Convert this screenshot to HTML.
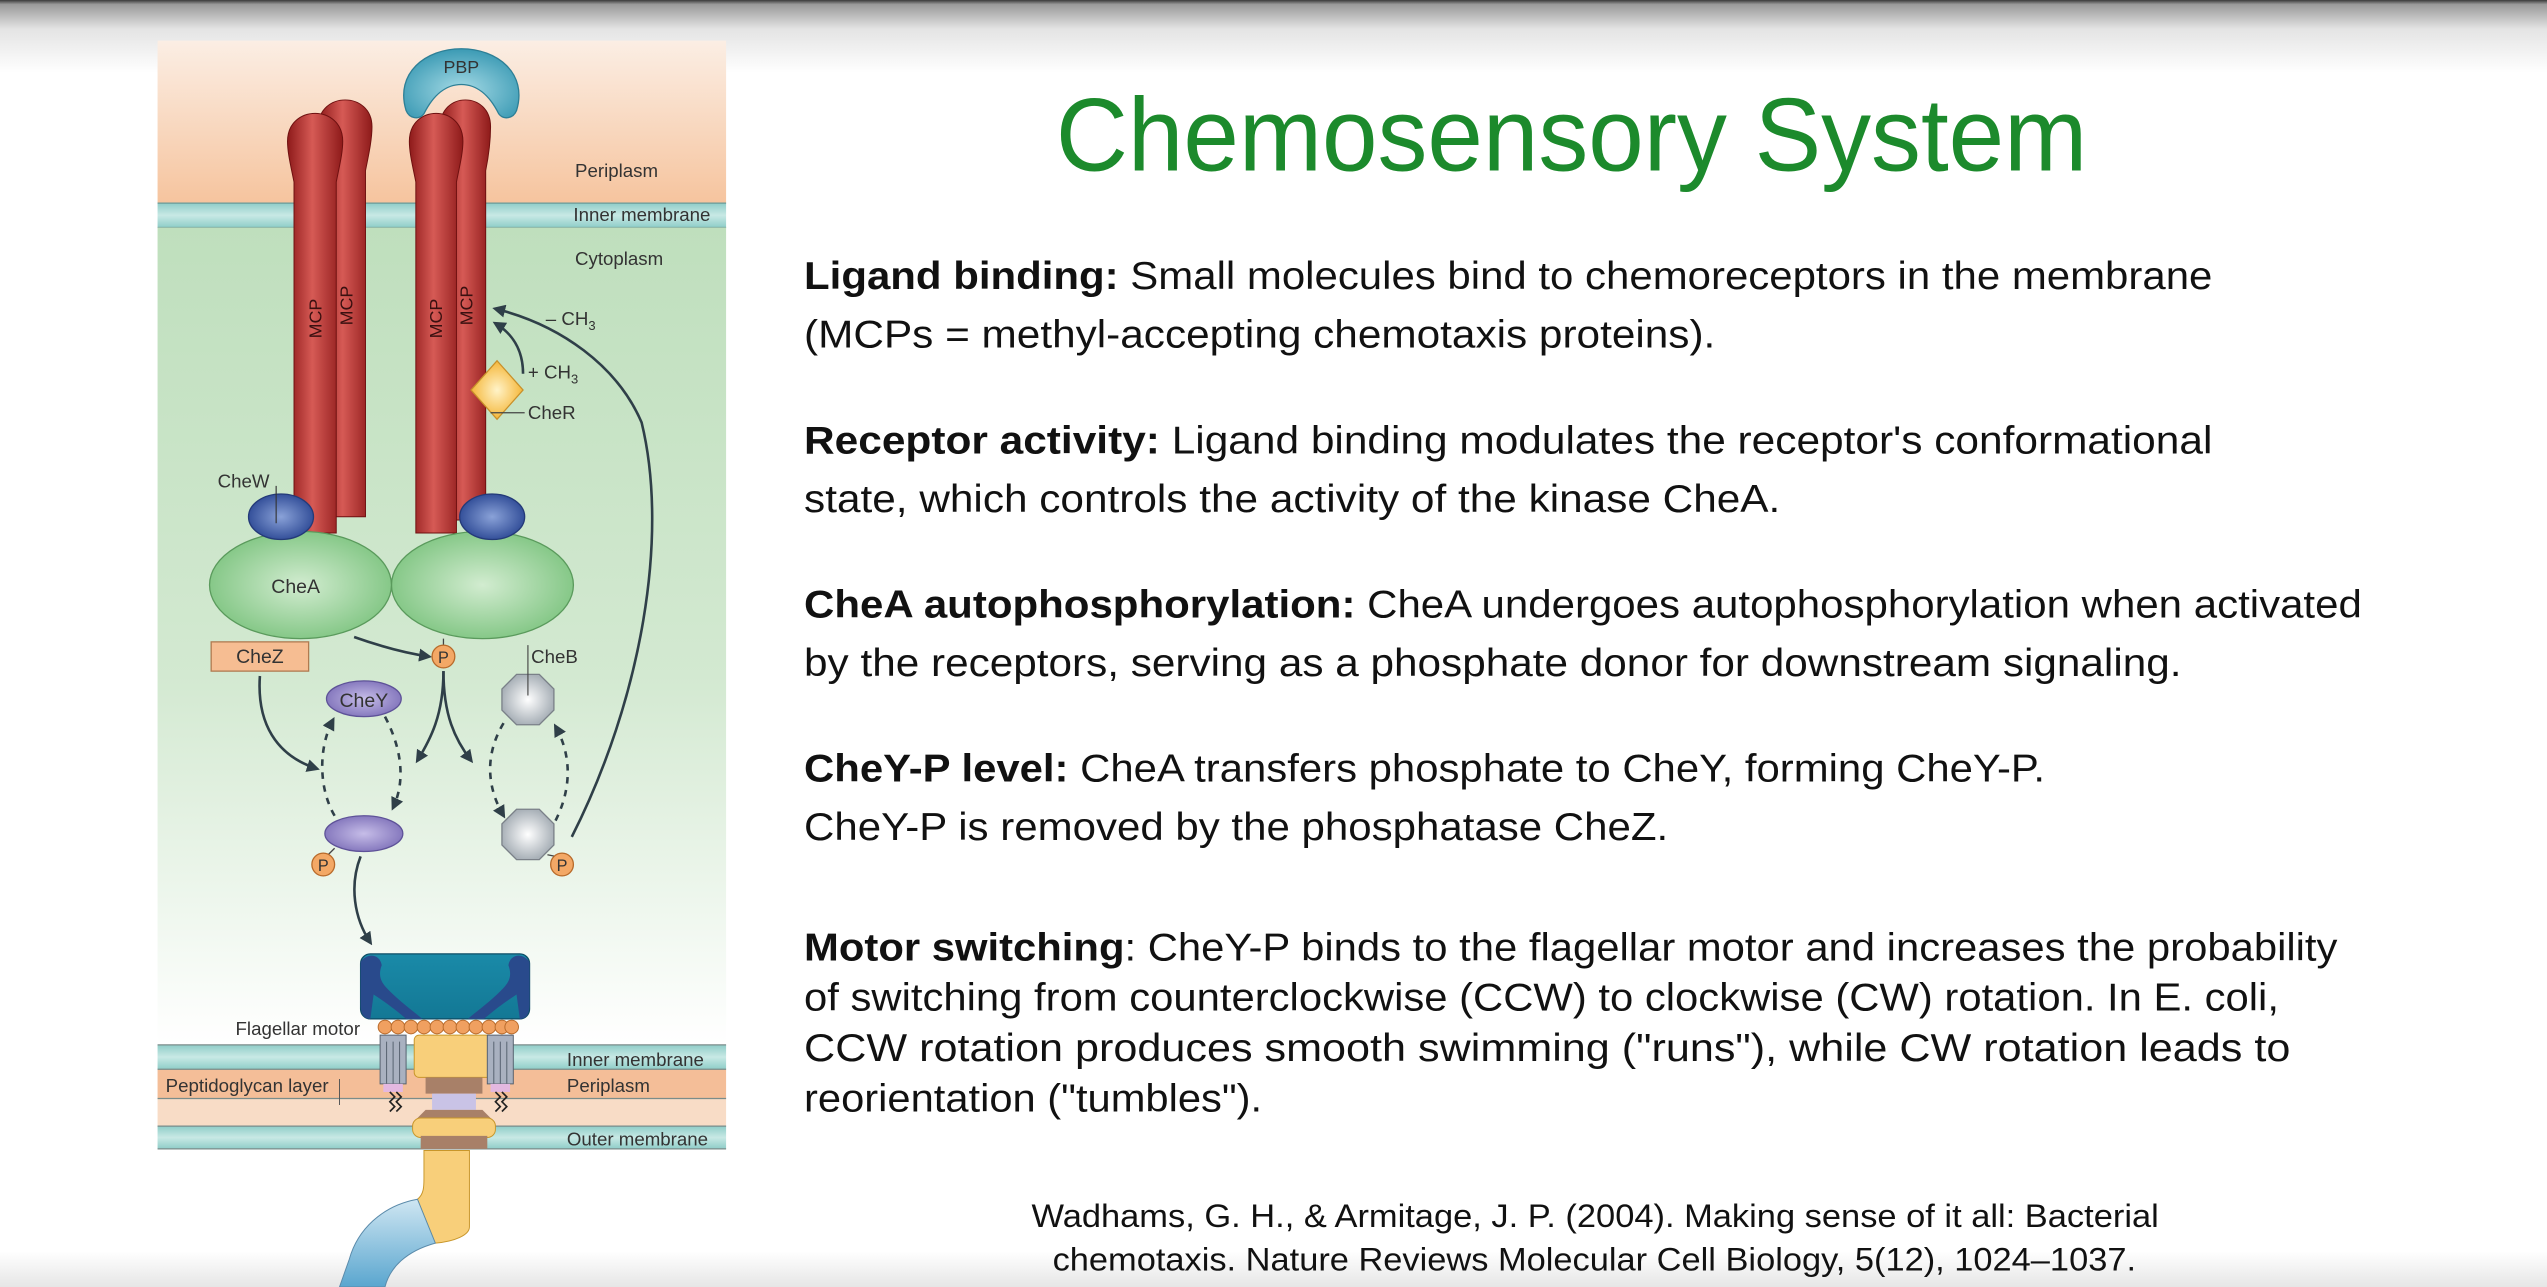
<!DOCTYPE html>
<html><head><meta charset="utf-8"><style>
html,body{margin:0;padding:0;background:#fff;}
svg{display:block;}
text{font-family:"Liberation Sans",Arial,sans-serif;}
</style></head><body>
<svg width="2547" height="1287" viewBox="0 0 1568 792" preserveAspectRatio="none" xmlns="http://www.w3.org/2000/svg">
<defs>
<linearGradient id="topg" x1="0" y1="0" x2="0" y2="1">
<stop offset="0" stop-color="#3a3a3a"/><stop offset="0.06" stop-color="#9a9a9a"/><stop offset="0.4" stop-color="#e4e4e4"/><stop offset="1" stop-color="#ffffff"/></linearGradient>
<linearGradient id="botg" x1="0" y1="0" x2="0" y2="1"><stop offset="0" stop-color="#fff"/><stop offset="1" stop-color="#e6e6e6"/></linearGradient>
<linearGradient id="peri" x1="0" y1="0" x2="0" y2="1"><stop offset="0" stop-color="#fbeee4"/><stop offset="1" stop-color="#f6c49e"/></linearGradient>
<linearGradient id="cyto" x1="0" y1="0" x2="0" y2="1"><stop offset="0" stop-color="#bfdfbd"/><stop offset="0.55" stop-color="#d3e9d1"/><stop offset="1" stop-color="#ffffff"/></linearGradient>
<linearGradient id="memb" x1="0" y1="0" x2="0" y2="1"><stop offset="0" stop-color="#8fcdc8"/><stop offset="0.5" stop-color="#c8e9e5"/><stop offset="1" stop-color="#8fcdc8"/></linearGradient>
<linearGradient id="rod" x1="0" y1="0" x2="1" y2="0"><stop offset="0" stop-color="#8e1a1a"/><stop offset="0.45" stop-color="#d65a55"/><stop offset="1" stop-color="#8e1a1a"/></linearGradient>
<radialGradient id="blue"><stop offset="0" stop-color="#8aa2d8"/><stop offset="1" stop-color="#34509a"/></radialGradient>
<radialGradient id="green"><stop offset="0" stop-color="#d2ecd0"/><stop offset="1" stop-color="#86c888"/></radialGradient>
<radialGradient id="purp"><stop offset="0" stop-color="#c6bde8"/><stop offset="1" stop-color="#8679be"/></radialGradient>
<radialGradient id="gray"><stop offset="0" stop-color="#ffffff"/><stop offset="1" stop-color="#a9b1b8"/></radialGradient>
<radialGradient id="yel"><stop offset="0" stop-color="#fff3c8"/><stop offset="1" stop-color="#f5b73a"/></radialGradient>
<radialGradient id="pbp" cx="0.5" cy="0.6" r="0.6"><stop offset="0" stop-color="#a6dbe6"/><stop offset="1" stop-color="#3b9ab4"/></radialGradient>
<linearGradient id="motor" x1="0" y1="0" x2="0" y2="1"><stop offset="0" stop-color="#1a8aa8"/><stop offset="1" stop-color="#137895"/></linearGradient>
<linearGradient id="fil" x1="0" y1="0" x2="0" y2="1"><stop offset="0" stop-color="#cfe6f2"/><stop offset="1" stop-color="#5aa6cf"/></linearGradient>
<marker id="ah" markerWidth="8" markerHeight="8" refX="6" refY="4" orient="auto" markerUnits="userSpaceOnUse"><path d="M0,0 L8,4 L0,8 Z" fill="#2f3f48"/></marker>
</defs>
<rect width="1568" height="792" fill="#fff"/>
<rect width="1568" height="45" fill="url(#topg)"/>
<rect y="770" width="1568" height="22" fill="url(#botg)"/>

<rect x="97" y="25" width="350" height="100" fill="url(#peri)"/>
<rect x="97" y="125" width="350" height="15" fill="url(#memb)"/>
<line x1="97" y1="125" x2="447" y2="125" stroke="#6a9a98" stroke-width="0.8"/>
<line x1="97" y1="140" x2="447" y2="140" stroke="#6a9a98" stroke-width="0.8"/>
<rect x="97" y="140" width="350" height="503" fill="url(#cyto)"/>
<rect x="97" y="643" width="350" height="15" fill="url(#memb)"/>
<rect x="97" y="658" width="350" height="18" fill="#f4be98"/>
<rect x="97" y="676" width="350" height="17" fill="#f8dcc6"/>
<rect x="97" y="693" width="350" height="14" fill="url(#memb)"/>
<g stroke="#7a8c8a" stroke-width="0.8"><line x1="97" y1="643" x2="447" y2="643"/><line x1="97" y1="658" x2="447" y2="658"/><line x1="97" y1="676" x2="447" y2="676"/><line x1="97" y1="693" x2="447" y2="693"/><line x1="97" y1="707" x2="447" y2="707"/></g>

<!-- MCP rods -->
<path d="M200,318 L200,105 C198,95 196,86 196,78 C196,56 229,56 229,78 C229,86 227,95 225,105 L225,318 Z" fill="url(#rod)" stroke="#6e1010" stroke-width="0.6"/>
<path d="M181,328 L181,112 C179,102 177,94 177,87 C177,64 211,64 211,87 C211,94 209,102 207,112 L207,328 Z" fill="url(#rod)" stroke="#6e1010" stroke-width="0.6"/>
<path d="M275,320 L275,105 C273,95 271,86 271,78 C271,56 302,56 302,78 C302,86 301,95 299,105 L299,320 Z" fill="url(#rod)" stroke="#6e1010" stroke-width="0.6"/>
<path d="M256,328 L256,112 C254,102 252,94 252,87 C252,64 285,64 285,87 C285,94 283,102 281,112 L281,328 Z" fill="url(#rod)" stroke="#6e1010" stroke-width="0.6"/>
<g font-size="11" fill="#3a1010">
<text transform="translate(198,196) rotate(-90)" text-anchor="middle">MCP</text>
<text transform="translate(217,188) rotate(-90)" text-anchor="middle">MCP</text>
<text transform="translate(272,196) rotate(-90)" text-anchor="middle">MCP</text>
<text transform="translate(291,188) rotate(-90)" text-anchor="middle">MCP</text>
</g>

<!-- PBP (in front) -->
<path d="M250,68 C243,45 262,30 284,30 C306,30 325,45 318,68 C316,73 310,74 307,70 C301,58 293,52 284,52 C275,52 267,58 261,70 C258,74 252,73 250,68 Z" fill="url(#pbp)" stroke="#2d7f96" stroke-width="0.8"/>
<text x="284" y="45" font-size="11" text-anchor="middle" fill="#333">PBP</text>

<!-- CheR -->
<path d="M306,222 L322,240 L306,258 L290,240 Z" fill="url(#yel)" stroke="#c8902a" stroke-width="0.8"/>
<line x1="302" y1="254" x2="323" y2="254" stroke="#444" stroke-width="0.7"/>
<g font-size="11.5" fill="#333">
<text x="336" y="200">– CH<tspan font-size="8" dy="3">3</tspan></text>
<text x="325" y="233">+ CH<tspan font-size="8" dy="3">3</tspan></text>
<text x="325" y="258">CheR</text>
</g>
<path d="M322,230 C322,215 315,205 305,199" fill="none" stroke="#2f3f48" stroke-width="1.6" marker-end="url(#ah)"/>
<path d="M352,515 C395,430 412,330 395,260 C380,225 345,200 305,190" fill="none" stroke="#2f3f48" stroke-width="1.6" marker-end="url(#ah)"/>

<ellipse cx="297" cy="360" rx="56" ry="33" fill="url(#green)" stroke="#5a9a5c" stroke-width="0.8"/>
<ellipse cx="185" cy="360" rx="56" ry="33" fill="url(#green)" stroke="#5a9a5c" stroke-width="0.8"/>
<ellipse cx="173" cy="318" rx="20" ry="14" fill="url(#blue)" stroke="#243a78" stroke-width="0.8"/>
<ellipse cx="303" cy="318" rx="20" ry="14" fill="url(#blue)" stroke="#243a78" stroke-width="0.8"/>
<line x1="170" y1="299" x2="170" y2="322" stroke="#333" stroke-width="0.7"/>
<text x="134" y="300" font-size="11.5" fill="#333">CheW</text>
<text x="182" y="365" font-size="12" text-anchor="middle" fill="#333">CheA</text>

<rect x="130" y="395" width="60" height="18" fill="#f6bd92" stroke="#b07a50" stroke-width="0.8"/>
<text x="160" y="408" font-size="12" text-anchor="middle" fill="#333">CheZ</text>

<path d="M218,392 C235,398 250,402 264,404" fill="none" stroke="#2f3f48" stroke-width="1.6" marker-end="url(#ah)"/>
<line x1="273" y1="393" x2="273" y2="397" stroke="#444" stroke-width="0.8"/>
<circle cx="273" cy="404" r="7" fill="#f3a866" stroke="#b86a2a" stroke-width="0.8"/>
<text x="273" y="408" font-size="10" text-anchor="middle" fill="#333">P</text>

<ellipse cx="224" cy="430" rx="23" ry="11" fill="url(#purp)" stroke="#5e5298" stroke-width="0.8"/>
<text x="224" y="435" font-size="12" text-anchor="middle" fill="#333">CheY</text>
<ellipse cx="224" cy="513" rx="24" ry="11" fill="url(#purp)" stroke="#5e5298" stroke-width="0.8"/>
<line x1="206" y1="522" x2="201" y2="527" stroke="#444" stroke-width="0.8"/>
<circle cx="199" cy="532" r="7" fill="#f3a866" stroke="#b86a2a" stroke-width="0.8"/>
<text x="199" y="536" font-size="10" text-anchor="middle" fill="#333">P</text>

<g fill="url(#gray)" stroke="#7a8088" stroke-width="0.8">
<path d="M318,415 L332,415 L341,424 L341,437 L332,446 L318,446 L309,437 L309,424 Z"/>
<path d="M318,498 L332,498 L341,507 L341,520 L332,529 L318,529 L309,520 L309,507 Z"/>
</g>
<line x1="325" y1="397" x2="325" y2="428" stroke="#444" stroke-width="0.7"/>
<text x="327" y="408" font-size="11.5" fill="#333">CheB</text>
<line x1="337" y1="526" x2="342" y2="527" stroke="#444" stroke-width="0.8"/>
<circle cx="346" cy="532" r="7" fill="#f3a866" stroke="#b86a2a" stroke-width="0.8"/>
<text x="346" y="536" font-size="10" text-anchor="middle" fill="#333">P</text>

<g fill="none" stroke="#2f3f48" stroke-width="1.6">
<path d="M160,416 C158,445 170,465 195,473" marker-end="url(#ah)"/>
<path d="M273,413 C273,440 265,455 257,468" marker-end="url(#ah)"/>
<path d="M273,413 C273,440 280,455 290,468" marker-end="url(#ah)"/>
<path d="M222,527 C215,545 218,565 228,580" marker-end="url(#ah)"/>
</g>
<g fill="none" stroke="#2f3f48" stroke-width="1.6" stroke-dasharray="4,4">
<path d="M206,502 C196,485 196,460 205,443" marker-end="url(#ah)"/>
<path d="M237,441 C247,460 250,480 242,497" marker-end="url(#ah)"/>
<path d="M310,445 C298,465 300,485 310,502" marker-end="url(#ah)"/>
<path d="M342,505 C352,485 352,465 342,447" marker-end="url(#ah)"/>
</g>

<!-- motor -->
<rect x="222" y="587" width="104" height="40" rx="6" fill="url(#motor)" stroke="#0d4d66" stroke-width="0.8"/>
<path d="M222,592 C226,586 234,587 235,594 C232,602 236,606 240,610 C246,616 254,622 260,627 L250,627 C242,620 236,616 230,612 L228,627 C223,627 222,622 222,618 Z" fill="#294a8c"/>
<path d="M326,592 C322,586 314,587 313,594 C316,602 312,606 308,610 C302,616 294,622 288,627 L298,627 C306,620 312,616 318,612 L320,627 C325,627 326,622 326,618 Z" fill="#294a8c"/>
<g fill="#f0a060" stroke="#b86a2a" stroke-width="0.6">
<circle cx="237" cy="632" r="4.2"/><circle cx="245" cy="632" r="4.2"/><circle cx="253" cy="632" r="4.2"/><circle cx="261" cy="632" r="4.2"/><circle cx="269" cy="632" r="4.2"/><circle cx="277" cy="632" r="4.2"/><circle cx="285" cy="632" r="4.2"/><circle cx="293" cy="632" r="4.2"/><circle cx="301" cy="632" r="4.2"/><circle cx="309" cy="632" r="4.2"/><circle cx="315" cy="632" r="4.2"/>
</g>
<rect x="255" y="637" width="48" height="26" rx="3" fill="#f8cf7a" stroke="#c8962a" stroke-width="0.6"/>
<g fill="#a9b1c0" stroke="#55606e" stroke-width="0.6">
<rect x="234" y="637" width="16" height="30"/><rect x="300" y="637" width="16" height="30"/>
</g>
<g stroke="#55606e" stroke-width="0.6"><line x1="238" y1="641" x2="238" y2="667"/><line x1="242" y1="641" x2="242" y2="667"/><line x1="246" y1="641" x2="246" y2="667"/><line x1="304" y1="641" x2="304" y2="667"/><line x1="308" y1="641" x2="308" y2="667"/><line x1="312" y1="641" x2="312" y2="667"/></g>
<rect x="236" y="667" width="12" height="5" fill="#e4b8e0"/><rect x="302" y="667" width="12" height="5" fill="#e4b8e0"/>
<g fill="none" stroke="#222" stroke-width="1"><path d="M240,672 l3,3 l-3,3 l3,3 l-3,3"/><path d="M244,672 l3,3 l-3,3 l3,3 l-3,3"/><path d="M305,672 l3,3 l-3,3 l3,3 l-3,3"/><path d="M309,672 l3,3 l-3,3 l3,3 l-3,3"/></g>
<rect x="262" y="663" width="35" height="10" fill="#a88068"/>
<rect x="266" y="673" width="27" height="10" fill="#c9c3e6"/>
<path d="M262,683 L297,683 L304,690 L255,690 Z" fill="#a88068"/>
<rect x="254" y="688" width="51" height="12" rx="5" fill="#f8cf7a" stroke="#c8962a" stroke-width="0.6"/>
<rect x="259" y="699" width="41" height="8" fill="#a88068"/>
<path d="M261,708 L289,708 L289,755 C289,760 280,764 268,765 L257,738 C261,735 261,730 261,725 Z" fill="#f8cf7a" stroke="#c8962a" stroke-width="0.6"/>
<path d="M257,738 C235,742 220,757 215,775 L209,792 L237,792 C240,780 250,770 268,765 Z" fill="url(#fil)" stroke="#5a8aaa" stroke-width="0.6"/>

<g font-size="11.5" fill="#333">
<text x="354" y="109">Periplasm</text>
<text x="353" y="136">Inner membrane</text>
<text x="354" y="163">Cytoplasm</text>
<text x="145" y="637">Flagellar motor</text>
<text x="349" y="656">Inner membrane</text>
<text x="102" y="672">Peptidoglycan layer</text>
<text x="349" y="672">Periplasm</text>
<text x="349" y="705">Outer membrane</text>
</g>
<line x1="209" y1="664" x2="209" y2="680" stroke="#555" stroke-width="0.6"/>

<text x="650" y="105" font-size="64" fill="#1c8a2c" textLength="635" lengthAdjust="spacingAndGlyphs">Chemosensory System</text>
<g font-size="24" fill="#111">
<text x="495" y="178" textLength="867" lengthAdjust="spacingAndGlyphs"><tspan font-weight="bold">Ligand binding:</tspan> Small molecules bind to chemoreceptors in the membrane</text>
<text x="495" y="214" textLength="561" lengthAdjust="spacingAndGlyphs">(MCPs = methyl-accepting chemotaxis proteins).</text>
<text x="495" y="279" textLength="867" lengthAdjust="spacingAndGlyphs"><tspan font-weight="bold">Receptor activity:</tspan> Ligand binding modulates the receptor's conformational</text>
<text x="495" y="315" textLength="601" lengthAdjust="spacingAndGlyphs">state, which controls the activity of the kinase CheA.</text>
<text x="495" y="380" textLength="959" lengthAdjust="spacingAndGlyphs"><tspan font-weight="bold">CheA autophosphorylation:</tspan> CheA undergoes autophosphorylation when activated</text>
<text x="495" y="416" textLength="848" lengthAdjust="spacingAndGlyphs">by the receptors, serving as a phosphate donor for downstream signaling.</text>
<text x="495" y="481" textLength="764" lengthAdjust="spacingAndGlyphs"><tspan font-weight="bold">CheY-P level:</tspan> CheA transfers phosphate to CheY, forming CheY-P.</text>
<text x="495" y="517" textLength="532" lengthAdjust="spacingAndGlyphs">CheY-P is removed by the phosphatase CheZ.</text>
<text x="495" y="591" textLength="944" lengthAdjust="spacingAndGlyphs"><tspan font-weight="bold">Motor switching</tspan>: CheY-P binds to the flagellar motor and increases the probability</text>
<text x="495" y="622" textLength="908" lengthAdjust="spacingAndGlyphs">of switching from counterclockwise (CCW) to clockwise (CW) rotation. In E. coli,</text>
<text x="495" y="653" textLength="915" lengthAdjust="spacingAndGlyphs">CCW rotation produces smooth swimming ("runs"), while CW rotation leads to</text>
<text x="495" y="684" textLength="282" lengthAdjust="spacingAndGlyphs">reorientation ("tumbles").</text>
</g>
<g font-size="20" fill="#111">
<text x="635" y="755" textLength="694" lengthAdjust="spacingAndGlyphs">Wadhams, G. H., &amp; Armitage, J. P. (2004). Making sense of it all: Bacterial</text>
<text x="648" y="782" textLength="667" lengthAdjust="spacingAndGlyphs">chemotaxis. Nature Reviews Molecular Cell Biology, 5(12), 1024–1037.</text>
</g>
</svg>
</body></html>
